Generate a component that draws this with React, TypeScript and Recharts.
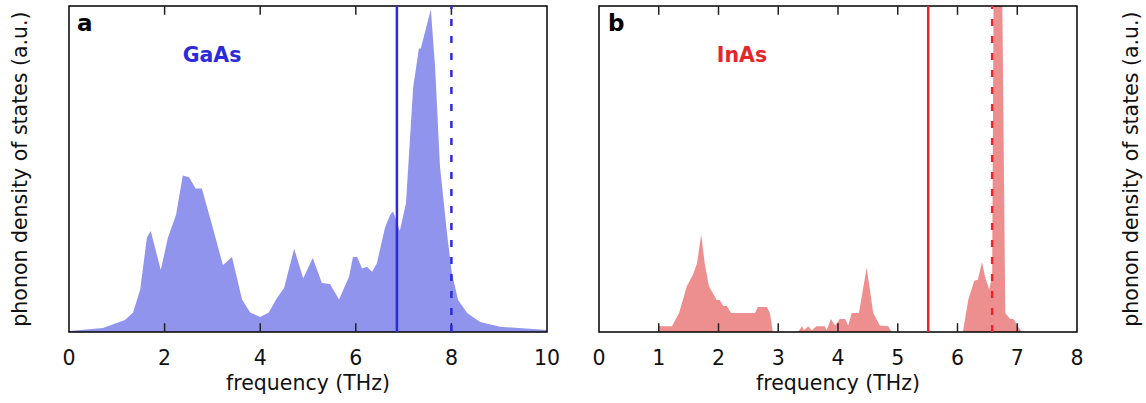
import React from 'react';
import { AreaChart, Area, XAxis, YAxis, ReferenceLine, ReferenceArea } from 'recharts';

// GaAs phonon DOS (panel a), frequency in THz, DOS in arbitrary units
const gaasFreq = [
  0, 0.71, 1.17, 1.34, 1.49, 1.63, 1.71, 1.92, 2.07, 2.24, 2.38, 2.51, 2.65, 2.78, 2.99, 3.22, 3.41,
  3.62, 3.79, 4.0, 4.18, 4.35, 4.5, 4.71, 4.9, 5.1, 5.29, 5.46, 5.65, 5.86, 5.94, 6.03, 6.13, 6.23,
  6.34, 6.44, 6.61, 6.72, 6.78, 6.84, 6.92, 7.05, 7.2, 7.32, 7.36, 7.57, 7.66, 7.76, 7.91, 8.01,
  8.14, 8.33, 8.6, 9.02, 10,
];
const gaasDos = [
  0.003, 0.012, 0.037, 0.06, 0.13, 0.29, 0.31, 0.19, 0.29, 0.36, 0.48, 0.475, 0.44, 0.44, 0.33,
  0.205, 0.23, 0.1, 0.06, 0.046, 0.06, 0.104, 0.135, 0.255, 0.165, 0.227, 0.15, 0.147, 0.1, 0.17,
  0.23, 0.23, 0.195, 0.2, 0.185, 0.21, 0.32, 0.36, 0.37, 0.345, 0.31, 0.395, 0.75, 0.87, 0.87,
  0.99, 0.81, 0.51, 0.3, 0.18, 0.098, 0.058, 0.031, 0.016, 0.006,
];

// InAs phonon DOS (panel b)
const inasFreq = [
  0, 1.0, 1.0, 1.22, 1.34, 1.47, 1.57, 1.64, 1.71, 1.77, 1.84, 1.97, 2.02, 2.08, 2.14, 2.21, 2.61,
  2.66, 2.81, 2.86, 2.91, 3.33, 3.4, 3.43, 3.5, 3.56, 3.64, 3.78, 3.81, 3.88, 3.95, 4.03, 4.12,
  4.17, 4.23, 4.35, 4.48, 4.59, 4.7, 4.84, 4.9, 6.09, 6.18, 6.28, 6.34, 6.41, 6.46, 6.53, 6.58,
  6.62, 6.72, 6.8, 6.88, 6.94, 7.0, 7.08, 8,
];
const inasDos = [
  0, 0, 0.018, 0.018, 0.058, 0.14, 0.175, 0.21, 0.3, 0.21, 0.14, 0.098, 0.098, 0.08, 0.08, 0.058,
  0.058, 0.077, 0.077, 0.058, 0, 0, 0.018, 0.005, 0.018, 0.005, 0.018, 0.018, 0.005, 0.04, 0.02,
  0.04, 0.04, 0.02, 0.058, 0.058, 0.197, 0.058, 0.02, 0.018, 0, 0, 0.098, 0.157, 0.16, 0.215, 0.17,
  0.13, 0.17, 1.6, 1.6, 0.058, 0.04, 0.04, 0.02, 0, 0,
];

const gaasTicks = [0, 2, 4, 6, 8, 10];
const inasTicks = [0, 1, 2, 3, 4, 5, 6, 7, 8];

// vertical markers
const gaasSolid = 6.86;
const gaasDashed = 8.0;
const inasSolid = 5.51;
const inasDashed = 6.58;

const BLUE = '#2b2bd9';
const RED = '#e5272d';
const FONT = 'DejaVu Sans, sans-serif';
const TICK_LEN = 0.027; // inward tick length in y-axis units

const gaasData = gaasFreq.map((f, i) => ({ f, dos: gaasDos[i] }));
const inasData = inasFreq.map((f, i) => ({ f, dos: inasDos[i] }));

const BottomTick = (props: any) => {
  const { x, y, payload } = props;
  return (
    <text x={x} y={y + 33} textAnchor="middle" fontSize={20.5} fontFamily={FONT} fill="#111">
      {payload.value}
    </text>
  );
};

type PanelProps = {
  data: { f: number; dos: number }[];
  ticks: number[];
  xMax: number;
  fill: string;
  color: string;
  solid: number;
  dashed: number;
  width: number;
  margin: { top: number; right: number; bottom: number; left: number };
};

function Panel({ data, ticks, xMax, fill, color, solid, dashed, width, margin }: PanelProps) {
  const inner = ticks.filter((t) => t > 0 && t < xMax);
  return (
    <AreaChart width={width} height={403} data={data} margin={margin}>
      <Area
        type="linear"
        dataKey="dos"
        stroke="none"
        fill={fill}
        fillOpacity={1}
        isAnimationActive={false}
        dot={false}
        activeDot={false}
      />
      {inner.map((t) => (
        <ReferenceLine
          key={`b${t}`}
          ifOverflow="visible"
          segment={[
            { x: t, y: 0 },
            { x: t, y: TICK_LEN },
          ]}
          stroke="#222"
          strokeWidth={1.5}
        />
      ))}
      {inner.map((t) => (
        <ReferenceLine
          key={`t${t}`}
          ifOverflow="visible"
          segment={[
            { x: t, y: 1 - TICK_LEN },
            { x: t, y: 1 },
          ]}
          stroke="#222"
          strokeWidth={1.5}
        />
      ))}
      <ReferenceLine x={solid} stroke={color} strokeWidth={2.5} />
      <ReferenceLine x={dashed} stroke={color} strokeWidth={2.5} strokeDasharray="7 10" />
      <ReferenceArea x1={0} x2={xMax} y1={0} y2={1} fill="none" stroke="#000" strokeWidth={1.5} />
      <XAxis
        dataKey="f"
        type="number"
        domain={[0, xMax]}
        ticks={ticks}
        interval={0}
        height={60}
        tickSize={0}
        tickMargin={0}
        tick={<BottomTick />}
        axisLine={false}
        label={{
          value: 'frequency (THz)',
          position: 'insideBottom',
          offset: 2,
          fontSize: 20.5,
          fontFamily: FONT,
          fill: '#111',
        }}
      />
      <YAxis domain={[0, 1]} allowDataOverflow hide />
    </AreaChart>
  );
}

const yLabelStyle = (cx: number): React.CSSProperties => ({
  position: 'absolute',
  left: cx - 200,
  top: 169 - 12,
  width: 400,
  height: 24,
  lineHeight: '24px',
  textAlign: 'center',
  transform: 'rotate(-90deg)',
  fontFamily: FONT,
  fontSize: 20.5,
  color: '#111',
  whiteSpace: 'nowrap',
});

const tagStyle = (x: number): React.CSSProperties => ({
  position: 'absolute',
  left: x,
  top: 10,
  fontFamily: FONT,
  fontWeight: 'bold',
  fontSize: 23,
  color: '#000',
});

const nameStyle = (cx: number, color: string): React.CSSProperties => ({
  position: 'absolute',
  left: cx - 60,
  width: 120,
  top: 43,
  textAlign: 'center',
  fontFamily: FONT,
  fontWeight: 'bold',
  fontSize: 20.5,
  color,
});

export default function App() {
  return (
    <div style={{ position: 'absolute', left: 0, top: 0, width: 1146, height: 403, background: '#fff' }}>
      <div style={{ position: 'absolute', left: 0, top: 0 }}>
        <Panel
          data={gaasData}
          ticks={gaasTicks}
          xMax={10}
          fill="#9094ec"
          color={BLUE}
          solid={gaasSolid}
          dashed={gaasDashed}
          width={560}
          margin={{ top: 6, right: 13, bottom: 11, left: 69 }}
        />
      </div>
      <div style={{ position: 'absolute', left: 560, top: 0 }}>
        <Panel
          data={inasData}
          ticks={inasTicks}
          xMax={8}
          fill="#ee8f8f"
          color={RED}
          solid={inasSolid}
          dashed={inasDashed}
          width={586}
          margin={{ top: 6, right: 69, bottom: 11, left: 39 }}
        />
      </div>
      <div style={yLabelStyle(20)}>phonon density of states (a.u.)</div>
      <div style={yLabelStyle(1131)}>phonon density of states (a.u.)</div>
      <div style={tagStyle(77)}>a</div>
      <div style={tagStyle(608)}>b</div>
      <div style={nameStyle(212, BLUE)}>GaAs</div>
      <div style={nameStyle(742, RED)}>InAs</div>
    </div>
  );
}
